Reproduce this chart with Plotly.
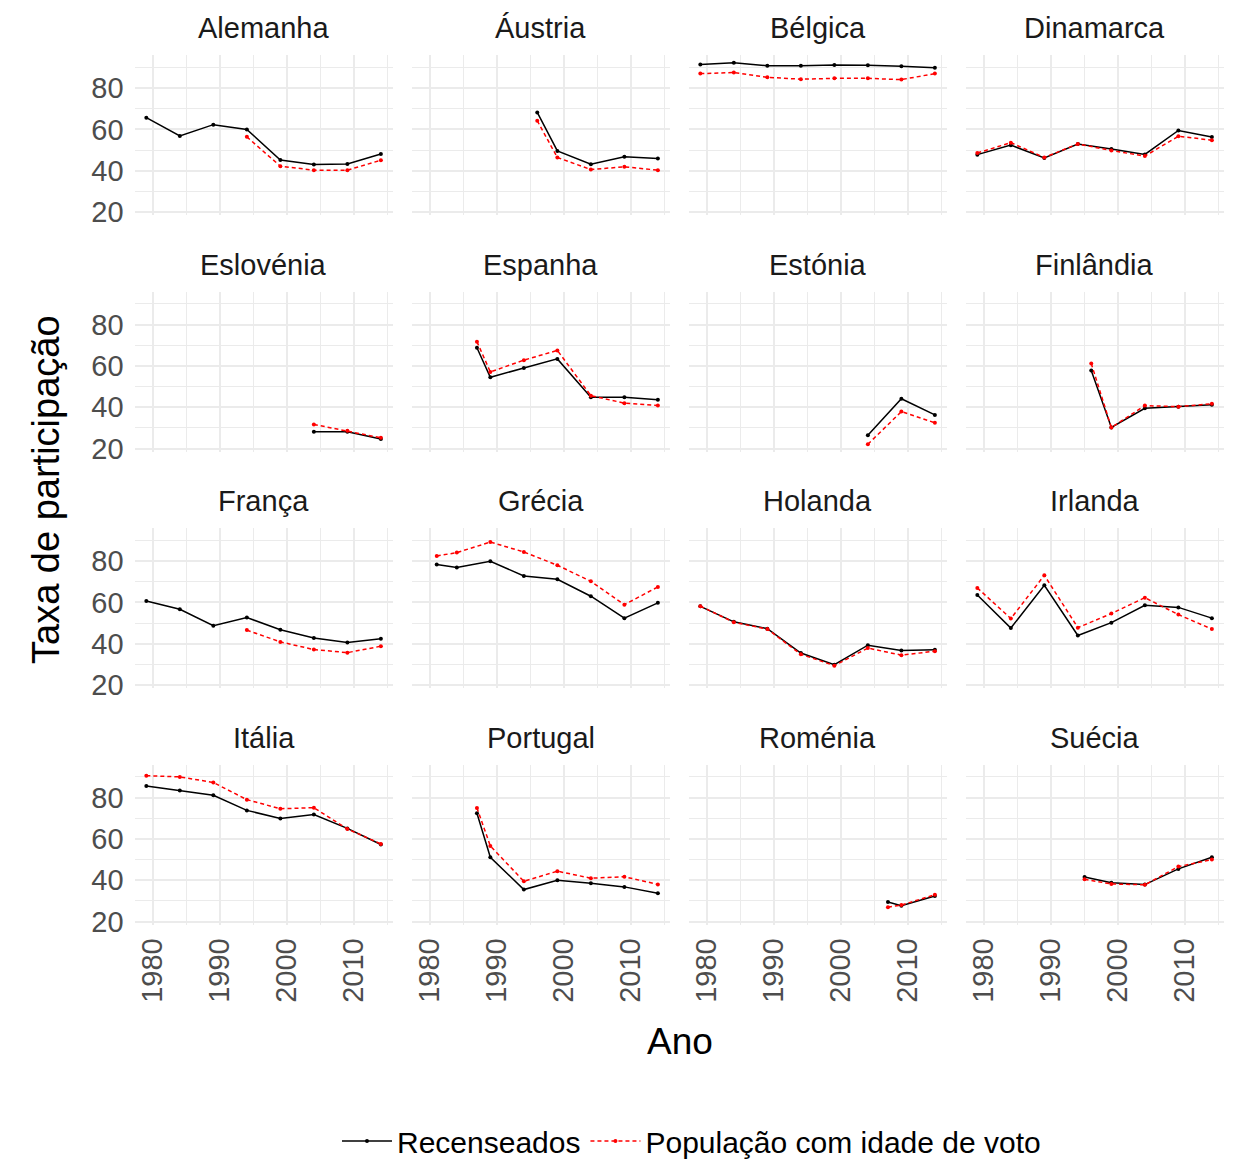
import plotly.graph_objects as go

# Participação nas eleições europeias, por país
anos_base = [1979, 1984, 1989, 1994, 1999, 2004, 2009, 2014]

alemanha_rec = [65.7, 56.8, 62.3, 60.0, 45.2, 43.0, 43.3, 48.1]
alemanha_pop = [None, None, None, 56.4, 42.2, 40.3, 40.3, 45.1]

anos_austria = [1996, 1999, 2004, 2009, 2014]
austria_rec = [68.2, 49.6, 43.2, 46.8, 45.9]
austria_pop = [64.2, 46.4, 40.6, 41.9, 40.3]

belgica_rec = [91.4, 92.2, 90.8, 90.8, 91.2, 91.1, 90.6, 89.8]
belgica_pop = [87.0, 87.5, 85.2, 84.3, 84.7, 84.7, 84.1, 87.0]

dinamarca_rec = [47.8, 52.4, 46.2, 52.9, 50.5, 47.9, 59.5, 56.3]
dinamarca_pop = [48.6, 53.6, 46.4, 53.0, 49.8, 47.1, 56.7, 54.8]

anos_eslovenia = [2004, 2009, 2014]
eslovenia_rec = [28.1, 28.1, 24.6]
eslovenia_pop = [31.7, 28.6, 25.2]

anos_iberia = [1987, 1989, 1994, 1999, 2004, 2009, 2014]
espanha_rec = [68.8, 54.5, 59.0, 63.4, 44.9, 44.9, 43.6]
espanha_pop = [71.7, 57.1, 62.8, 67.5, 45.6, 42.0, 40.8]

anos_estonia = [2004, 2009, 2014]
estonia_rec = [26.5, 44.1, 36.3]
estonia_pop = [22.1, 37.9, 32.5]

anos_finlandia = [1996, 1999, 2004, 2009, 2014]
finlandia_rec = [57.8, 30.2, 39.5, 40.3, 41.2]
finlandia_pop = [61.2, 30.2, 40.8, 40.3, 41.7]

franca_rec = [60.7, 56.7, 48.7, 52.7, 46.8, 42.8, 40.6, 42.4]
franca_pop = [None, None, None, 46.6, 40.9, 37.2, 35.7, 38.8]

anos_grecia = [1981, 1984, 1989, 1994, 1999, 2004, 2009, 2014]
grecia_rec = [78.3, 76.9, 79.9, 72.8, 71.2, 63.0, 52.4, 59.8]
grecia_pop = [82.5, 84.1, 89.2, 84.4, 78.0, 70.2, 58.9, 67.5]

holanda_rec = [58.1, 50.6, 47.3, 35.5, 29.9, 39.3, 36.7, 37.1]
holanda_pop = [58.2, 50.4, 47.1, 34.9, 29.4, 37.9, 34.5, 36.4]

irlanda_rec = [63.6, 47.6, 68.3, 44.0, 50.2, 58.6, 57.6, 52.4]
irlanda_pop = [67.0, 52.2, 73.1, 47.8, 54.6, 62.3, 54.1, 47.1]

italia_rec = [85.6, 83.4, 81.1, 73.8, 69.9, 71.8, 65.1, 57.3]
italia_pop = [90.6, 90.0, 87.3, 79.0, 74.6, 75.1, 64.8, 57.6]

portugal_rec = [72.4, 51.1, 35.5, 40.0, 38.6, 36.8, 33.7]
portugal_pop = [75.0, 56.6, 39.5, 44.4, 41.0, 41.7, 38.0]

anos_romenia = [2007, 2009, 2014]
romenia_rec = [29.5, 27.7, 32.4]
romenia_pop = [27.0, 28.0, 33.0]

anos_suecia = [1995, 1999, 2004, 2009, 2014]
suecia_rec = [41.6, 38.8, 37.9, 45.5, 51.1]
suecia_pop = [40.5, 38.2, 37.8, 46.6, 50.0]

paineis = [
    ("Alemanha", anos_base, alemanha_rec, alemanha_pop),
    ("Áustria", anos_austria, austria_rec, austria_pop),
    ("Bélgica", anos_base, belgica_rec, belgica_pop),
    ("Dinamarca", anos_base, dinamarca_rec, dinamarca_pop),
    ("Eslovénia", anos_eslovenia, eslovenia_rec, eslovenia_pop),
    ("Espanha", anos_iberia, espanha_rec, espanha_pop),
    ("Estónia", anos_estonia, estonia_rec, estonia_pop),
    ("Finlândia", anos_finlandia, finlandia_rec, finlandia_pop),
    ("França", anos_base, franca_rec, franca_pop),
    ("Grécia", anos_grecia, grecia_rec, grecia_pop),
    ("Holanda", anos_base, holanda_rec, holanda_pop),
    ("Irlanda", anos_base, irlanda_rec, irlanda_pop),
    ("Itália", anos_base, italia_rec, italia_pop),
    ("Portugal", anos_iberia, portugal_rec, portugal_pop),
    ("Roménia", anos_romenia, romenia_rec, romenia_pop),
    ("Suécia", anos_suecia, suecia_rec, suecia_pop),
]

x_ticks = [1980, 1990, 2000, 2010]
x_minor = [1985, 1995, 2005, 2015]
y_ticks = [20, 40, 60, 80]
y_minor = [30, 50, 70, 90]

W, H = 1237, 1159
FONT = "Liberation Sans, Arial, sans-serif"
GRID = "#EBEBEB"
TXT = 29

fig = go.Figure()
layout = {}
annotations = []

for i, (nome, anos, rec, pop) in enumerate(paineis):
    r, c = divmod(i, 4)
    k = i + 1
    xa = "x" if k == 1 else f"x{k}"
    ya = "y" if k == 1 else f"y{k}"
    left = 134.6 + c * 277
    right = left + 258
    top = 55 + r * 236.5
    bottom = top + 160

    fig.add_trace(go.Scatter(
        x=anos, y=rec, mode="lines+markers", name="Recenseados",
        line=dict(color="black", width=1.5),
        marker=dict(color="black", size=4),
        xaxis=xa, yaxis=ya, showlegend=(i == 0), legendgroup="rec",
    ))
    fig.add_trace(go.Scatter(
        x=anos, y=pop, mode="lines+markers", name="População com idade de voto",
        line=dict(color="#FF0000", width=1.5, dash="4px,3px"),
        marker=dict(color="#FF0000", size=4),
        xaxis=xa, yaxis=ya, showlegend=(i == 0), legendgroup="pop",
        connectgaps=False,
    ))

    layout["xaxis" if k == 1 else f"xaxis{k}"] = dict(
        domain=[left / W, right / W], anchor=ya, range=[1977.25, 2015.75],
        tickvals=x_ticks, ticktext=[str(v) for v in x_ticks],
        showticklabels=(r == 3), tickangle=-90, ticks="",
        tickfont=dict(size=TXT, color="#4D4D4D", family=FONT),
        ticklabelstandoff=7,
        showgrid=True, gridcolor=GRID, gridwidth=2,
        minor=dict(tickvals=x_minor, showgrid=True, gridcolor=GRID, gridwidth=1.2),
        zeroline=False, showline=False, fixedrange=True, automargin=False,
    )
    layout["yaxis" if k == 1 else f"yaxis{k}"] = dict(
        domain=[1 - bottom / H, 1 - top / H], anchor=xa, range=[18.6, 96.0],
        tickvals=y_ticks, showticklabels=(c == 0), ticks="",
        tickfont=dict(size=TXT, color="#4D4D4D", family=FONT),
        ticklabelstandoff=10,
        showgrid=True, gridcolor=GRID, gridwidth=2,
        minor=dict(tickvals=y_minor, showgrid=True, gridcolor=GRID, gridwidth=1.2),
        zeroline=False, showline=False, fixedrange=True, automargin=False,
    )
    annotations.append(dict(
        text=nome, x=(left + right) / 2 / W, y=1 - (top - 27) / H,
        xref="paper", yref="paper", showarrow=False,
        xanchor="center", yanchor="middle",
        font=dict(size=TXT, color="#1A1A1A", family=FONT),
    ))

annotations.append(dict(
    text="Ano", x=680 / W, y=1 - 1041 / H, xref="paper", yref="paper",
    showarrow=False, xanchor="center", yanchor="middle",
    font=dict(size=37, color="black", family=FONT),
))
annotations.append(dict(
    text="Taxa de participação", x=46 / W, y=1 - 490 / H, xref="paper", yref="paper",
    showarrow=False, xanchor="center", yanchor="middle", textangle=-90,
    font=dict(size=38, color="black", family=FONT),
))

fig.update_layout(
    width=W, height=H,
    margin=dict(l=0, r=0, t=0, b=0, autoexpand=False),
    paper_bgcolor="white", plot_bgcolor="white",
    font=dict(family=FONT),
    annotations=annotations,
    legend=dict(
        orientation="h", x=0.559, y=1 - 1141 / H, xanchor="center", yanchor="middle",
        font=dict(size=30, color="black", family=FONT),
        itemwidth=50, tracegroupgap=0,
    ),
    **layout,
)

fig.write_html("out.html")
